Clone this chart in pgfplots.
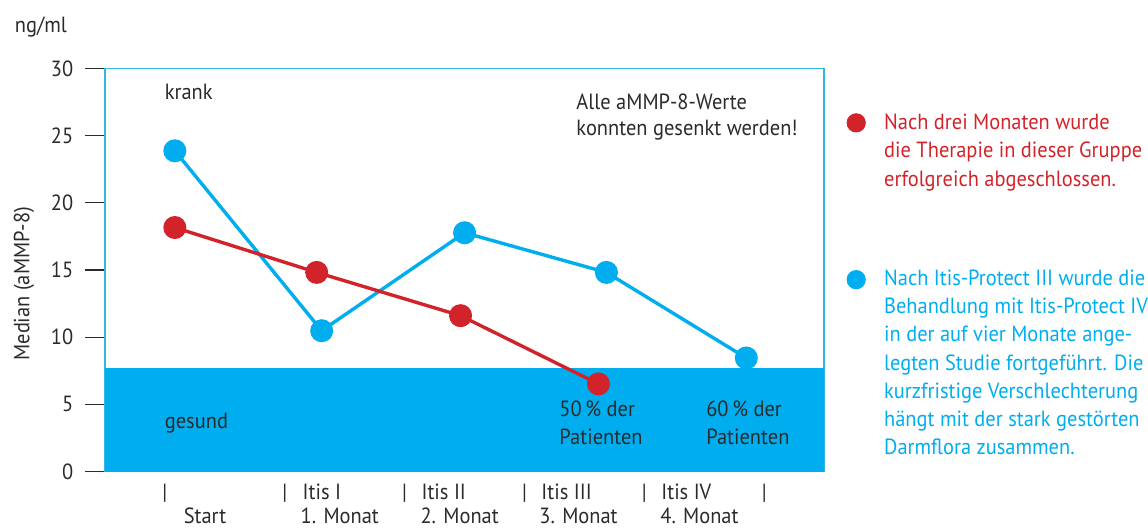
\documentclass[border=0pt]{standalone}
\usepackage{pgfplots}
\pgfplotsset{compat=1.18}
\usepackage{fontspec}
\setmainfont{PT Sans}[FakeStretch=0.93]
\definecolor{redc}{HTML}{D2232A}
\definecolor{bluec}{HTML}{00AEEF}
\definecolor{boxc}{HTML}{33B5E8}
\definecolor{txt}{HTML}{2B2B2B}
\begin{document}
\fontsize{11}{14.15}\selectfont
\begin{tikzpicture}[font=\fontsize{11}{14.15}\selectfont, text=txt]
\path (0,0) rectangle (574pt,264.5pt);
\begin{axis}[
  scale only axis, width=360pt, height=201.75pt,
  at={(52.5pt,28.5pt)}, anchor=south west,
  xmin=105, xmax=825, ymin=0, ymax=30,
  xtick=\empty, ytick={0,5,...,30}, ytick pos=left,
  axis line style={draw=boxc, line width=0.8pt},
  tick align=outside, major tick length=10pt,
  tick style={draw=txt, line width=0.6pt},
  yticklabel style={font=\fontsize{11}{13}\selectfont, text=txt, xshift=-2pt},
  /pgf/number format/assume math mode=true,
  clip=false,
]
\addplot[draw=none, fill=bluec] coordinates {(105,7.73) (825,7.73)} \closedcycle;
\addplot[bluec, line width=1.7pt, mark=*, mark size=4.9pt, mark options={draw=none, fill=bluec}]
  coordinates {(175,23.87) (322,10.48) (465,17.77) (607,14.82) (747,8.45)};
\addplot[redc, line width=1.7pt, mark=*, mark size=4.9pt, mark options={draw=none, fill=redc}]
  coordinates {(175,18.16) (317,14.82) (461,11.60) (599,6.52)};
% key bullets (outside the plot box)
\addplot[redc, only marks, mark=*, mark size=4.6pt, mark options={draw=none, fill=redc}]
  coordinates {(857,25.95)};
\addplot[bluec, only marks, mark=*, mark size=4.6pt, mark options={draw=none, fill=bluec}]
  coordinates {(857,14.28)};
\end{axis}
\begin{scope}[yshift=264.5pt, x=0.5pt, y=-0.5pt, every node/.style={inner sep=0pt, outer sep=0pt, text=txt}]
\node[anchor=base west] at (15,33) {ng/ml};
\node[rotate=90, anchor=center] at (24,284) {Median (aMMP-8)};
\node[anchor=base west] at (165,100) {krank};
\node[anchor=base west] at (577,110) {Alle aMMP-8-Werte};
\node[anchor=base west] at (577,136) {konnten gesenkt werden!};
\node[anchor=base west] at (165,429) {gesund};
\node[anchor=base west] at (560,417) {50\,\% der};
\node[anchor=base west] at (560,445) {Patienten};
\node[anchor=base west] at (707,417) {60\,\% der};
\node[anchor=base west] at (707,445) {Patienten};
\foreach \s in {165,285,405,525,645,765}{\node[anchor=base] at (\s,499.5) {|};}
\node[anchor=base west] at (303,499.5) {Itis I};
\node[anchor=base west] at (422,499.5) {Itis II};
\node[anchor=base west] at (542,499.5) {Itis III};
\node[anchor=base west] at (662,499.5) {Itis IV};
\node[anchor=base west] at (184,524.5) {Start};
\node[anchor=base west] at (301,524.5) {1. Monat};
\node[anchor=base west] at (421,524.5) {2. Monat};
\node[anchor=base west] at (540,524.5) {3. Monat};
\node[anchor=base west] at (661,524.5) {4. Monat};
\node[anchor=base west, text=redc] at (885,129.7) {Nach drei Monaten wurde};
\node[anchor=base west, text=redc] at (885,158) {die Therapie in dieser Gruppe};
\node[anchor=base west, text=redc] at (885,186.3) {erfolgreich abgeschlossen.};
\node[anchor=base west, text=bluec] at (885,285.6) {Nach Itis-Protect III wurde die};
\node[anchor=base west, text=bluec] at (885,313.9) {Behandlung mit Itis-Protect IV};
\node[anchor=base west, text=bluec] at (885,342.2) {in der auf vier Monate ange-};
\node[anchor=base west, text=bluec] at (885,370.5) {legten Studie fortgeführt. Die};
\node[anchor=base west, text=bluec] at (885,398.8) {kurzfristige Verschlechterung};
\node[anchor=base west, text=bluec] at (885,427.1) {hängt mit der stark gestörten};
\node[anchor=base west, text=bluec] at (885,455.4) {Darmflora zusammen.};
\end{scope}
\end{tikzpicture}
\end{document}
